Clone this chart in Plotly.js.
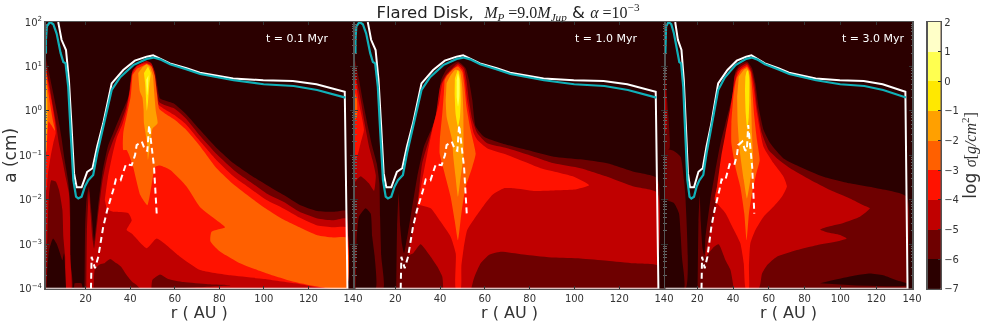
<!DOCTYPE html>
<html>
<head>
<meta charset="utf-8">
<script src="https://cdn.plot.ly/plotly-3.0.1.min.js"></script>
<style>
  html, body { margin: 0; padding: 0; background: #fff; }
  #chart { width: 981px; height: 322px; filter: blur(0.35px); }
</style>
</head>
<body>
<div id="chart"></div>
<script>
// log10 sigma bands: band value is its lower bound
const levels = [-7, -6, -5, -4, -3, -2, -1, 0, 1];
const levelColors = ['#2b0000', '#6e0000', '#c00000', '#ff1200', '#ff6000', '#ffa000', '#ffe800', '#ffff50', '#ffffc8'];
const levelEdges = [-7, -6, -5, -4, -3, -2, -1, 0, 1, 2];

const xTicks = [20, 40, 60, 80, 100, 120, 140];
const yTicks = [1e-4, 1e-3, 1e-2, 1e-1, 1, 10, 100];
const yTickText = ['10<sup>−4</sup>', '10<sup>−3</sup>', '10<sup>−2</sup>', '10<sup>−1</sup>', '10<sup>0</sup>', '10<sup>1</sup>', '10<sup>2</sup>'];
const panelLabels = ['t = 0.1 Myr', 't = 1.0 Myr', 't = 3.0 Myr'];
const panelLabelR = [130, 129.3, 137.2];

// all points below are [r in AU, log10 a in cm]
const whiteCurve = [[7.7,2],[9.2,1.6],[11.2,1.37],[12.5,.7],[13.7,-.36],[14.8,-1.4],[16,-1.72],[18.2,-1.72],[20.7,-1.37],[23.1,-1.29],[25.2,-.8],[27.9,-.28],[31.7,.62],[36.9,.92],[42.1,1.13],[47.4,1.22],[50.3,1.25],[53.3,1.18],[57.8,1.07],[65.3,.96],[71.3,.86],[86.2,.73],[99.7,.69],[113,.67],[123.6,.6],[136.3,.43],[137.5,-4],[2.2,-4]];
const cyanCurve = [[2.2,1.3],[2.2,1.6],[2.6,1.9],[4,2],[5.5,1.95],[7,1.74],[8.8,1.3],[10,1.1],[11,1.07],[12.2,.54],[13.3,-.5],[14.5,-1.56],[15.7,-1.93],[16.7,-1.97],[18.2,-1.93],[19.7,-1.7],[21.2,-1.56],[23.4,-1.44],[25.2,-.96],[27.2,-.5],[29.4,-.06],[31.7,.47],[35.4,.75],[41.4,1.03],[47.4,1.17],[50.4,1.2],[53.4,1.16],[57.9,1.05],[65.4,.93],[71.4,.83],[86.4,.69],[99.9,.6],[113.4,.56],[123.9,.47],[136.6,.3]];
const dashCurve = [[22.4,-4],[22.7,-3.28],[24.2,-3.54],[25.7,-3.28],[27.9,-2.61],[29.7,-2.23],[32.4,-1.78],[33.6,-1.54],[35.7,-1.56],[37.7,-1.29],[38.1,-1.2],[40.7,-1.22],[42.2,-.99],[42.9,-.77],[45.2,-.69],[46.7,-.88],[47.7,-.9],[48.5,-.32],[49.7,-.88],[50.7,-1.26],[51.9,-2.31]];

// panel 1, t = 0.1 Myr
const p1LeftM6 = [[2,1.22],[3.6,.85],[5.5,.39],[7.3,-.06],[9.1,-.58],[10.6,-1.11],[12.1,-1.56],[13,-2.01],[13.2,-2.83],[13.3,-3.43],[13.9,-4],[2,-4]];
const p1Floor = [[14.8,-4],[15.1,-3.88],[18.1,-3.88],[18.7,-4]];
const p1LeftM5 = [[2,.95],[3.6,.62],[5.1,.17],[6.7,-.28],[8,-.73],[9.6,-1.11],[11,-1.48],[12.5,-1.85],[13,-2.4],[13.1,-3.28],[13.6,-4],[11.4,-4],[10.8,-3.28],[10,-2.83],[9.6,-2.23],[8.07,-1.78],[6.6,-1.59],[4.6,-1.56],[3.6,-1.86],[3.1,-2.38],[2.8,-2.83],[2.5,-3.28],[2.2,-4],[2,-4]];
const p1LeftHole = [[2.5,-4],[2.8,-3.58],[3.6,-3.13],[5.4,-2.87],[6.9,-2.98],[8.5,-3.2],[9.6,-3.36],[10.3,-3.2],[11.2,-4]];
const p1LeftM4 = [[2,1.1],[3.1,.66],[4.6,.25],[6.1,-.2],[6.6,-.5],[5.5,-.73],[4.3,-1.03],[3.1,-1.41],[2.4,-1.78],[2,-1.78]];
const p1LeftM3 = [[2,1.07],[2.8,.62],[4,.17],[5.4,-.24],[6.3,-.45],[4.6,-.32],[3.4,-.24],[2.8,-.58],[2.4,-.88],[2,-1]];
const p1LeftM2 = [[2,1.07],[2.5,.62],[3,.02],[2.7,-.43],[2.4,-.88],[2,-1]];
const p1LeftM1 = [[2,.9],[2.35,.4],[2.5,-.05],[2.2,-.7],[2,-.9]];
const p1BodyM6 = [[19.5,-4],[19.8,-2.6],[20.4,-2],[21.5,-1.7],[22.3,-2.1],[23,-2.5],[23.8,-2.93],[25.5,-2.2],[27.5,-1.4],[30,-.8],[32.4,-.5],[35.4,-.13],[39.2,.32],[40.7,.85],[42.2,.96],[44.4,1.03],[47.4,1.09],[49.7,1.03],[51.2,.88],[52.3,.54],[53.4,.28],[59.4,.17],[65.4,-.09],[71.4,-.43],[78.9,-.84],[86.4,-1.18],[93.9,-1.44],[101.4,-1.67],[108.9,-1.89],[116.4,-2.12],[123.9,-2.25],[131.4,-2.27],[137,-2.25],[137,-4]];
const p1BodyM5 = [[20.3,-4],[20.6,-2.7],[21.5,-1.8],[22.2,-2.3],[23,-2.85],[23.8,-3.1],[25.5,-2.4],[27.5,-1.6],[30,-1],[32.5,-.65],[35.5,-.3],[38,.05],[39.8,.45],[41,.9],[43,1.02],[45,1.07],[47.4,1.12],[49.5,1.07],[50.8,.9],[51.8,.55],[53,.2],[56,.12],[60,.05],[65,-.17],[71,-.54],[79,-.98],[87,-1.35],[94,-1.6],[101,-1.85],[109,-2.05],[116,-2.27],[124,-2.42],[131,-2.46],[137,-2.42],[137,-4]];
const p1BodyM4 = [[28.6,-2],[30,-1.5],[32,-1],[34,-.6],[36.5,-.3],[38.5,.05],[40,.5],[41,.85],[43,1],[45,1.05],[47.4,1.08],[49.3,1.03],[50.5,.85],[51.3,.5],[52.5,.15],[56,.02],[60,-.1],[65,-.3],[71,-.66],[79,-1.12],[87,-1.5],[94,-1.75],[101,-2],[109,-2.2],[116,-2.4],[124,-2.58],[131,-2.62],[137,-2.62],[137,-4],[125,-3.98],[114,-3.88],[100,-3.78],[85,-3.7],[71.4,-3.58],[62.4,-3.28],[51.9,-2.87],[47.4,-3.09],[40.7,-2.76],[38.4,-2.68],[40.7,-2.46],[39.2,-2.3],[32.4,-2.27],[29.5,-2.22]];
const p1BodyM3 = [[41,.81],[40.2,.32],[38.7,-.05],[36.9,-.5],[36.9,-.88],[38.4,-.88],[41,-1.2],[44.6,-1.9],[47.7,-2.12],[49.5,-1.7],[51.2,-1.26],[53.4,-1.23],[58,-1.33],[65.3,-1.7],[71.3,-2.16],[78.8,-2.46],[82.6,-2.62],[76.5,-2.72],[76,-2.93],[80,-3.15],[89,-3.42],[101,-3.65],[114,-3.85],[125,-3.96],[137,-4],[137,-2.85],[131,-2.85],[124,-2.8],[116,-2.62],[109,-2.45],[101,-2.2],[94,-1.95],[87,-1.68],[79,-1.3],[71,-.77],[65,-.42],[60,-.2],[56,-.07],[53,.05],[52,.4],[51,.8],[49.6,1],[47.5,1.05],[45,1],[43,.95]];
const p1BodyM2 = [[43.6,.85],[44.3,.45],[45.5,.3],[46,.05],[46.2,-.28],[47.5,-.7],[48,-1.1],[49,-.75],[50,-.4],[52.3,-.28],[51.5,0],[50.8,.4],[50.2,.8],[48.8,1],[47.4,1.05],[45.5,.98]];
const p1BodyM1 = [[46.2,.85],[46.8,.55],[47.2,.2],[47.5,0],[48,.2],[48.6,.6],[49.2,.85],[48,1]];
const p1Body0 = [[47.2,.7],[47.6,.35],[48,.55],[48.2,.8]];
const p1PatchA = [[23.6,-4],[24.2,-3.55],[26.5,-3.45],[28.3,-3.43],[31,-3.33],[33.9,-3.43],[35.8,-3.5],[38.4,-3.69],[41,-3.85],[43,-3.92],[44.5,-4]];
const p1PatchB = [[49.5,-4],[50,-3.8],[53.4,-3.68],[57,-3.78],[64,-3.85],[75,-3.9],[85,-3.92],[70,-3.97],[60,-4]];

// panel 2, t = 1.0 Myr
const p2LeftM6 = [[2,1.15],[3.8,.7],[5.7,.17],[7.8,-.36],[9.7,-.8],[11.7,-1.18],[12.9,-1.63],[13.2,-2.38],[13.75,-3.28],[14.6,-4],[2,-4]];
const p2LeftM5 = [[2,.85],[4.5,.25],[6.3,-.28],[8.25,-.8],[9.8,-1.1],[11.3,-1.45],[10.5,-1.8],[8.2,-1.63],[4.5,-1.47],[2,-1.6]];
const p2LeftHole = [[2.7,-2.9],[3.8,-2.38],[6.76,-2.19],[9,-2.31],[9.7,-2.83],[10.8,-3.28],[11.2,-4],[2.3,-4]];
const p2LeftM4 = [[2,.78],[3.8,.17],[5.3,-.2],[6,-.43],[4.5,-.73],[3,-1.03],[2,-1.1]];
const p2LeftM3 = [[2,.4],[2.9,.25],[2.9,-.13],[2,-.2]];
const p2BodyM6 = [[20.4,-4],[20.8,-2.6],[21.5,-1.86],[22.2,-2.6],[23,-3],[23.9,-3.2],[26.85,-2.38],[29.8,-1.48],[32.8,-.8],[36.5,-.36],[38.8,.02],[40.5,.7],[43.2,.96],[48,1.11],[51.4,.96],[52.9,.69],[54.4,.24],[55.9,-.35],[59.6,-.58],[67,-.72],[79,-.88],[90.8,-1.03],[102.7,-1.09],[114.6,-1.18],[126.5,-1.37],[137,-1.52],[137,-4]];
const p2BodyM5 = [[26,-4],[26,-3.2],[29.8,-2.16],[32,-1.18],[35,-.66],[38,-.13],[40,.55],[42.5,.8],[45.4,.96],[48,1.07],[50.7,.96],[51.8,.69],[52.9,.24],[54.4,-.2],[56.6,-.5],[61,-.73],[70,-.84],[79,-.98],[90.8,-1.18],[102.7,-1.29],[114.6,-1.48],[126.5,-1.7],[137,-1.84],[137,-4]];
const p2BodyM4 = [[29.8,-2.12],[32,-1.56],[34.3,-.96],[36.5,-.43],[39.5,.17],[41,.62],[43,.8],[45.4,.92],[48,1.03],[50.2,.92],[51.1,.69],[52.1,.24],[53.6,-.2],[55,-.5],[56.6,-.65],[61,-.84],[70,-.99],[77.4,-1.14],[84.9,-1.29],[99.8,-1.48],[106.5,-1.67],[99.8,-1.77],[90.8,-1.79],[81.9,-1.8],[73,-1.74],[68.5,-1.74],[63.3,-1.89],[59.6,-2.12],[55.9,-2.38],[52.1,-2.68],[50.5,-3.1],[49.5,-3.5],[49.2,-4],[47,-4],[47,-3.21],[44.7,-2.83],[40.2,-2.49],[35.8,-2.19],[31.3,-2.12]];
const p2BodyM3 = [[42,.69],[43.2,.8],[46.2,.96],[48,1],[49.9,.88],[50.7,.62],[51.8,.09],[53.6,-.43],[55.9,-.96],[54.4,-1.26],[51.4,-1.71],[49.5,-2.31],[48,-2.91],[46.5,-2.46],[44.7,-1.93],[42,-1.4],[39.8,-.96],[39.9,-.66],[41,-.05],[41.7,.4]];
const p2BodyM2 = [[42.9,.62],[44.7,.8],[46.9,.93],[48.9,.88],[49.9,.54],[50.4,-.05],[50.4,-1.03],[49.2,-1.48],[48,-1.93],[46.9,-1.48],[45.9,-1.03],[45.4,-.66],[42.9,-.13],[42.5,.24]];
const p2BodyM1 = [[46.6,.73],[48,.92],[48.9,.73],[49.2,.24],[48.9,-.13],[48,-.36],[46.9,-.06],[46.5,.39]];
const p2Body0 = [[47.4,.69],[48,.84],[48.6,.69],[48.6,.32],[48,.1],[47.4,.32]];
const p2PatchA = [[24,-4],[24,-3.5],[26,-3.25],[28,-3.2],[31.3,-3],[35.8,-3.28],[38.75,-3.5],[41,-3.73],[41.4,-4]];
const p2PatchB = [[53.9,-4],[55.1,-3.77],[58.1,-3.43],[61.8,-3.24],[67,-3.17],[78.9,-3.24],[90.8,-3.3],[102.7,-3.32],[114.6,-3.37],[126.5,-3.43],[137,-3.48],[137,-4]];

// panel 3, t = 3.0 Myr
const p3LeftTop = [[2,1],[3.3,.2],[4.2,-.3],[4.5,-.85],[2,-.85]];
const p3LeftStrip = [[2,.6],[2.7,.2],[2.7,-.4],[2,-.5]];
const p3LeftM6 = [[2,-.84],[7,-.9],[10.7,-1.03],[12.6,-1.55],[13.5,-2],[13.5,-4],[2,-4]];
const p3LeftHole = [[2,-2],[4.5,-2.03],[7,-2.07],[9.8,-2.3],[10.7,-2.75],[11.5,-3.3],[12.6,-4],[2,-4]];
const p3BodyM6 = [[20.2,-4],[20.7,-2.5],[21.4,-1.9],[22,-2.5],[23,-3.1],[24,-3.25],[24.6,-2.85],[27.4,-2],[30.2,-1.33],[33,-.73],[35.8,-.28],[39.5,.32],[41.3,.88],[44,1.05],[47.8,1.11],[50.6,.96],[52.5,.62],[54.3,.09],[57.1,-.43],[60.8,-.73],[68.2,-1.07],[77.5,-1.26],[90.5,-1.48],[105.3,-1.63],[120.2,-1.74],[137,-1.93],[137,-4]];
const p3BodyM5 = [[24.6,-3.2],[27,-2.75],[30.2,-2.15],[32,-1.55],[33.9,-1.03],[36.7,-.36],[39.5,.09],[40.8,.77],[43.2,.96],[47.8,1.07],[50.2,.92],[51.9,.62],[53.4,.09],[56.2,-.51],[59.9,-.88],[65.5,-1.1],[71.9,-1.29],[83.1,-1.55],[94.2,-1.78],[105.3,-1.97],[112.8,-2.12],[116.5,-2.19],[110.9,-2.38],[101.6,-2.52],[92.4,-2.61],[88.6,-2.67],[92.4,-2.73],[99.8,-2.79],[103.5,-2.87],[98,-2.94],[86.8,-3.02],[75.7,-3.13],[64.5,-3.28],[59,-3.47],[56.2,-3.66],[54.3,-4],[24.6,-4]];
const p3BodyM4 = [[42.6,.88],[40.4,.54],[38.6,.09],[35.8,-.51],[33.4,-1.03],[31.1,-1.7],[29.8,-2],[35.8,-2.3],[40.4,-2.67],[44.1,-2.98],[46,-3.43],[47.1,-4],[48.8,-4],[48.9,-3.5],[49.7,-2.98],[52.5,-2.68],[57.1,-2.38],[62.7,-2.15],[67.3,-1.93],[70.1,-1.7],[68.2,-1.48],[62.7,-1.18],[57.1,-.81],[53.4,-.06],[51.5,.54],[50,.88],[47.8,1.03],[45,.97]];
const p3BodyM3 = [[47.8,1],[49.7,.88],[50.8,.47],[51.9,-.13],[53.4,-.66],[54.9,-1.11],[53,-1.41],[50.6,-1.86],[48.9,-2.31],[47.6,-2.91],[46.3,-2.31],[44.1,-1.71],[41.3,-1.26],[39.1,-.73],[39.1,-.28],[40.4,.39],[41.9,.73],[44.5,.92]];
const p3BodyM2 = [[43.2,.77],[46,.92],[47.8,.96],[49.3,.81],[50.1,.24],[50.6,-.51],[51.2,-1.18],[49.7,-1.55],[47.8,-1.97],[46,-1.55],[43.7,-.88],[42.6,-.28],[42.3,.32]];
const p3BodyM1 = [[47.5,.88],[48.4,.92],[49.1,.69],[49.1,.24],[48.8,-.13],[48,-.43],[47.1,-.06],[46.7,.47],[46.9,.77]];
const p3PatchA = [[23.7,-4],[23.7,-3.36],[29.3,-3.06],[32,-3],[35.8,-3.36],[38.6,-3.58],[40.4,-4]];
const p3PatchB = [[88.6,-3.88],[98,-3.79],[109,-3.7],[116.5,-3.66],[123.9,-3.7],[131.3,-3.81],[137,-3.88],[137,-3.93],[109,-3.93]];

// drawing order for each panel: [band, outline]
const panel1Bands = [[-6,p1LeftM6],[-6,p1Floor],[-5,p1LeftM5],[-7,p1LeftHole],[-4,p1LeftM4],[-3,p1LeftM3],[-2,p1LeftM2],[-1,p1LeftM1],
  [-6,p1BodyM6],[-5,p1BodyM5],[-6,p1PatchA],[-6,p1PatchB],[-4,p1BodyM4],[-3,p1BodyM3],[-2,p1BodyM2],[-1,p1BodyM1],[0,p1Body0]];
const panel2Bands = [[-6,p2LeftM6],[-5,p2LeftM5],[-7,p2LeftHole],[-4,p2LeftM4],[-3,p2LeftM3],
  [-6,p2BodyM6],[-5,p2BodyM5],[-6,p2PatchA],[-6,p2PatchB],[-4,p2BodyM4],[-3,p2BodyM3],[-2,p2BodyM2],[-1,p2BodyM1],[0,p2Body0]];
const panel3Bands = [[-6,p3LeftTop],[-5,p3LeftStrip],[-6,p3LeftM6],[-7,p3LeftHole],
  [-6,p3BodyM6],[-5,p3BodyM5],[-6,p3PatchA],[-7,p3PatchB],[-4,p3BodyM4],[-3,p3BodyM3],[-2,p3BodyM2],[-1,p3BodyM1]];

const W = 981, H = 322;
const plotTop = 1 - 22 / H, plotBottom = 1 - 288.7 / H;
const font = 'DejaVu Sans, sans-serif';
const inkColor = '#333';
const frameColor = '#555';

function linePts(pts, key) {
    return pts.map(p => key === 'r' ? p[0] : Math.pow(10, p[1]));
}

function panelTraces(bands, axisSuffix) {
    const traces = bands.map(b => ({
        x: linePts(b[1], 'r'), y: linePts(b[1], 'a'),
        xaxis: 'x' + axisSuffix, yaxis: 'y' + axisSuffix,
        type: 'scatter', mode: 'lines', fill: 'toself',
        fillcolor: levelColors[levels.indexOf(b[0])],
        line: { width: 0, shape: 'spline', smoothing: 0.5 },
        hoverinfo: 'skip'
    }));
    const curve = (pts, color, width, dash) => ({
        x: linePts(pts, 'r'), y: linePts(pts, 'a'),
        xaxis: 'x' + axisSuffix, yaxis: 'y' + axisSuffix,
        type: 'scatter', mode: 'lines',
        line: { color: color, width: width, dash: dash || 'solid' },
        hoverinfo: 'skip'
    });
    traces.push(curve(whiteCurve, '#ffffff', 2));
    traces.push(curve(cyanCurve, '#10b0b8', 2.2));
    traces.push(curve(dashCurve, '#ffffff', 2, '6px,4px'));
    return traces;
}

// colour bar drawn as a one column heatmap on its own axes
const colorbarTrace = {
    type: 'heatmap',
    x: [0, 1], y: levelEdges,
    z: levels.map(v => [v]),
    zmin: -7, zmax: 1,
    colorscale: levelColors.map((c, i) => [i / (levelColors.length - 1), c]),
    showscale: false, xaxis: 'x4', yaxis: 'y4', hoverinfo: 'skip'
};

const data = [].concat(
    panelTraces(panel1Bands, ''),
    panelTraces(panel2Bands, '2'),
    panelTraces(panel3Bands, '3'),
    [colorbarTrace]
);

function xAxis(left, right, anchor) {
    return {
        domain: [left / W, right / W], anchor: anchor, range: [2, 140],
        tickvals: xTicks, ticks: 'inside', ticklen: 3, tickcolor: inkColor,
        showline: true, linecolor: frameColor, linewidth: 1.5, mirror: 'ticks',
        showgrid: false, zeroline: false,
        tickfont: { family: font, size: 10, color: inkColor },
        title: { text: 'r ( AU )', font: { family: font, size: 16, color: inkColor }, standoff: 3 }
    };
}

function yAxis(anchor, labelled) {
    return {
        domain: [plotBottom, plotTop], anchor: anchor, type: 'log', range: [-4, 2],
        tickvals: yTicks, ticktext: yTickText, showticklabels: labelled,
        ticks: 'inside', ticklen: 3, tickcolor: inkColor,
        minor: { ticks: 'inside', ticklen: 1.5, tickcolor: '#666', dtick: 'D1', showgrid: false },
        showline: true, linecolor: frameColor, linewidth: 1.5, mirror: 'ticks',
        showgrid: false, zeroline: false,
        tickfont: { family: font, size: 10, color: inkColor },
        title: labelled ? { text: 'a (cm)', font: { family: font, size: 17, color: inkColor }, standoff: 8 } : undefined
    };
}

const annotations = panelLabels.map((t, i) => ({
    text: t, xref: i === 0 ? 'x' : 'x' + (i + 1), yref: 'paper',
    x: panelLabelR[i], y: 1 - 38 / H, xanchor: 'right', yanchor: 'middle',
    showarrow: false, font: { family: font, size: 11, color: '#ffffff' }
}));

const serif = 'font-family:Liberation Serif,serif;font-size:16px;';
const layout = {
    width: W, height: H,
    margin: { l: 0, r: 0, t: 0, b: 0 },
    paper_bgcolor: '#ffffff', plot_bgcolor: levelColors[0],
    showlegend: false,
    title: {
        text: 'Flared Disk,&nbsp;&nbsp;<span style="' + serif + '"><i>M<sub>P</sub></i> =9.0<i>M<sub>Jup</sub></i></span> &amp; <span style="' + serif + '"><i>α</i> =10<sup>−3</sup></span>',
        x: 508 / W, xanchor: 'center', y: 1 - 12 / H, yanchor: 'middle',
        font: { family: font, size: 16.5, color: '#222' }
    },
    xaxis: xAxis(45.5, 353, 'y'),
    yaxis: yAxis('x', true),
    xaxis2: xAxis(355, 664, 'y2'),
    yaxis2: yAxis('x2', false),
    xaxis3: xAxis(665, 912, 'y3'),
    yaxis3: yAxis('x3', false),
    xaxis4: {
        domain: [927.7 / W, 940.7 / W], anchor: 'y4', range: [0, 1],
        showticklabels: false, ticks: '', showgrid: false, zeroline: false,
        showline: true, linecolor: frameColor, linewidth: 1.5, mirror: true
    },
    yaxis4: {
        domain: [plotBottom, plotTop], anchor: 'x4', side: 'right', range: [-7, 2],
        tickvals: levelEdges, ticks: 'inside', ticklen: 3, tickcolor: inkColor,
        showgrid: false, zeroline: false,
        showline: true, linecolor: frameColor, linewidth: 1.5, mirror: true,
        tickfont: { family: font, size: 10, color: inkColor },
        title: {
            text: 'log <span style="' + serif + '"><i>σ</i>[<i>g/cm</i><sup>2</sup>]</span>',
            font: { family: font, size: 17, color: inkColor }, standoff: 6
        }
    },
    annotations: annotations
};

Plotly.newPlot('chart', data, layout, { staticPlot: true, displayModeBar: false });
</script>
</body>
</html>
